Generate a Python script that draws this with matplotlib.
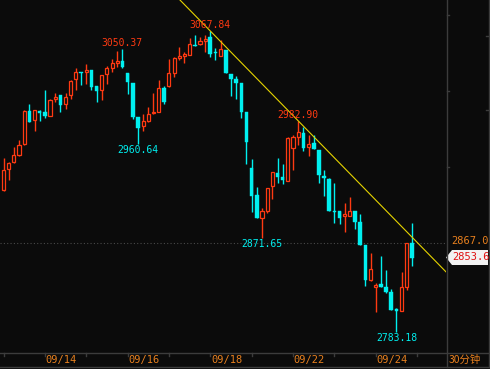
import numpy as np
import matplotlib
matplotlib.use('Agg')
import matplotlib.pyplot as plt
from matplotlib.lines import Line2D
from matplotlib.patches import Polygon

# 30-minute bars, 8 per trading day
opens = [2917.48, 2937.34, 2944.24, 2950.58, 2960.69, 2992.19, 2983.39, 2992.19, 2990.96, 2987.74,
         3003.54, 3007.32, 2998.81, 3007.32, 3022.17, 3028.79, 3029.07, 3030.96, 3015.83, 3011.76,
         3026.90, 3032.57, 3037.86, 3039.47, 3027.84, 3018.38, 2986.80, 2978.00, 2982.73, 2990.01,
         2991.53, 3013.65, 3016.11, 3028.41, 3042.03, 3044.49, 3045.15, 3054.89, 3055.26, 3058.38,
         3062.45, 3047.70, 3044.49, 3049.88, 3027.18, 3022.17, 3018.95, 2991.53, 2938.00, 2912.75,
         2890.71, 2897.62, 2921.26, 2933.27, 2929.49, 2926.27, 2956.91, 2967.88, 2971.10, 2957.86,
         2961.64, 2955.30, 2930.71, 2927.60, 2897.90, 2897.62, 2892.89, 2893.17, 2897.62, 2886.93,
         2865.46, 2832.36, 2825.46, 2828.30, 2825.46, 2820.73, 2804.65, 2803.33, 2825.46, 2867.07]
closes = [2936.39, 2943.01, 2950.58, 2960.03, 2992.47, 2982.07, 2992.85, 2990.58, 2987.74, 3002.59,
          3005.43, 2997.86, 3005.71, 3020.56, 3028.79, 3027.84, 3030.96, 3015.17, 3011.39, 3025.95,
          3033.14, 3037.86, 3039.76, 3034.08, 3019.33, 2986.80, 2976.40, 2982.73, 2989.07, 2991.53,
          3013.65, 3000.41, 3027.84, 3042.03, 3044.20, 3046.09, 3055.26, 3053.94, 3058.38, 3060.28,
          3045.81, 3046.75, 3050.54, 3027.84, 3022.45, 3018.95, 2991.53, 2963.16, 2912.09, 2891.28,
          2897.62, 2919.09, 2934.20, 2930.05, 2926.93, 2966.37, 2967.32, 2972.04, 2956.91, 2960.69,
          2955.97, 2931.66, 2929.11, 2897.90, 2896.96, 2891.28, 2894.50, 2897.62, 2887.50, 2865.46,
          2832.36, 2842.76, 2827.63, 2826.03, 2821.30, 2803.99, 2803.33, 2826.03, 2867.07, 2853.60]
highs = [2947.74, 2943.96, 2958.43, 2964.76, 2993.13, 2998.81, 2992.85, 2993.42, 3012.05, 3003.25,
         3009.49, 3007.32, 3008.93, 3021.50, 3032.57, 3029.35, 3036.64, 3030.96, 3015.83, 3025.95,
         3035.03, 3041.08, 3049.21, 3050.37, 3028.41, 3018.38, 2986.80, 2989.35, 2995.69, 3009.49,
         3021.50, 3015.83, 3041.08, 3043.54, 3052.43, 3048.27, 3060.94, 3064.06, 3062.45, 3064.06,
         3067.84, 3051.48, 3059.33, 3049.88, 3027.18, 3025.29, 3018.95, 2991.53, 2946.51, 2920.60,
         2900.74, 2919.09, 2934.20, 2947.46, 2941.78, 2967.32, 2969.49, 2982.90, 2976.77, 2969.49,
         2969.49, 2955.30, 2936.39, 2928.54, 2924.38, 2897.62, 2904.90, 2911.14, 2897.62, 2894.78,
         2865.46, 2857.61, 2829.24, 2855.06, 2841.82, 2823.57, 2805.60, 2840.21, 2867.07, 2886.55]
lows = [2916.53, 2926.93, 2943.30, 2949.92, 2960.03, 2982.07, 2973.56, 2983.01, 2985.85, 2987.74,
        3000.98, 2991.53, 2994.08, 3003.82, 3012.05, 3016.78, 3018.01, 3012.05, 3000.41, 3002.59,
        3017.72, 3029.35, 3034.08, 3033.14, 3008.27, 2984.91, 2960.64, 2973.56, 2981.50, 2989.07,
        2991.53, 2998.81, 3015.17, 3024.63, 3040.42, 3037.86, 3045.15, 3053.94, 3054.59, 3047.70,
        3043.54, 3040.42, 3044.49, 3027.84, 3006.37, 3003.54, 2985.85, 2942.07, 2896.39, 2891.28,
        2871.65, 2895.44, 2908.68, 2923.82, 2922.87, 2926.27, 2936.39, 2960.03, 2954.64, 2949.63,
        2955.97, 2924.38, 2911.80, 2897.90, 2886.55, 2885.33, 2878.04, 2893.17, 2880.33, 2865.46,
        2826.97, 2831.70, 2802.39, 2826.03, 2820.35, 2803.99, 2783.18, 2803.33, 2822.92, 2845.61]

days = ['09/11', '09/14', '09/15', '09/16', '09/17', '09/18', '09/21', '09/22', '09/23', '09/24']
shown_days = ['09/14', '09/16', '09/18', '09/22', '09/24']
bars_per_day = 8
ref_price = 2867.0
last_price = 2853.6
high_marks = [23, 40, 57]   # labelled peaks
low_marks = [26, 50, 76]    # labelled troughs
trend_pts = [40, 57]        # trend line through these highs

BG = '#0b0b0b'
RED = '#ff3a12'
CYAN = '#00f0f0'
ORANGE = '#e8801e'
GRID = '#3c3c3c'
W, H = 490, 369

def fx(px):
    return px / W

def fy(py):
    return 1 - py / H

fig = plt.figure(figsize=(W / 100, H / 100), dpi=100, facecolor=BG)
ax = fig.add_axes([0, fy(353), fx(446), 353 / H])
ax.set_facecolor(BG)
for s in ax.spines.values():
    s.set_visible(False)
ax.set_xticks([])
ax.set_yticks([])

o = np.array(opens); c = np.array(closes)
hi = np.array(highs); lo = np.array(lows)
x = np.arange(len(o))
up = c >= o
col = np.where(up, RED, CYAN)

ax.vlines(x, lo, hi, colors=col, lw=1, zorder=2)
body_lo = np.minimum(o, c)
body_h = np.maximum(np.abs(c - o), 0.9)
ax.bar(x[up], body_h[up], bottom=body_lo[up], width=0.6,
       facecolor=BG, edgecolor=RED, linewidth=0.9, zorder=3)
ax.bar(x[~up], body_h[~up], bottom=body_lo[~up], width=0.7,
       facecolor=CYAN, edgecolor=CYAN, linewidth=0.3, zorder=3)

# reference price line
ax.axhline(ref_price, color='#4a4a4a', lw=0.8, ls=(0, (1, 2)), zorder=1)

# trend line through two peaks
i0, i1 = trend_pts
slope = (hi[i1] - hi[i0]) / (i1 - i0)
tx = np.array([20, 90])
ax.plot(tx, hi[i0] + slope * (tx - i0), color='#e6d400', lw=0.8, zorder=4)

ax.set_xlim(-0.677, 85.59)
ax.set_ylim(2763.33, 3097.16)

mono = 'DejaVu Sans Mono'
for i in high_marks:
    ax.annotate(f'{hi[i]:.2f}', (i, hi[i]), xytext=(0, 6), textcoords='offset pixels',
                ha='center', va='center', color=RED, fontsize=7, family=mono, zorder=5)
for i in low_marks:
    ax.annotate(f'{lo[i]:.2f}', (i, lo[i]), xytext=(0, -6), textcoords='offset pixels',
                ha='center', va='center', color=CYAN, fontsize=7, family=mono, zorder=5)

# day ticks and date labels
xt = ax.get_xaxis_transform()
for d in range(len(days) + 1):
    ax.plot([d * bars_per_day] * 2, [0, -3 / 353], transform=xt, color=GRID,
            lw=1, clip_on=False)
for d, name in enumerate(days):
    if name in shown_days:
        ax.text(d * bars_per_day + 0.15, -7.5 / 353, name, transform=xt, ha='left',
                va='center', color=ORANGE, fontsize=7.5, family=mono)

# frame lines
for y in (353, 367):
    fig.add_artist(Line2D([0, 1], [fy(y), fy(y)], color=GRID, lw=1))
fig.add_artist(Line2D([fx(446.5), fx(446.5)], [fy(0), fy(367)], color=GRID, lw=1))
fig.add_artist(Line2D([fx(488.5), fx(488.5)], [fy(0), fy(367)], color=GRID, lw=1))
for y in (15, 91, 167):
    fig.add_artist(Line2D([fx(447), fx(449)], [fy(y), fy(y)], color=GRID, lw=1))
for y in (36, 110):
    fig.add_artist(Line2D([fx(486), fx(488)], [fy(y), fy(y)], color=GRID, lw=1))

# right price labels
fig.text(fx(451), fy(241.5), f'{ref_price:.1f}', color=ORANGE, fontsize=7.5,
         family=mono, ha='left', va='center')
fig.add_artist(Polygon([(fx(446), fy(257.5)), (fx(452), fy(250)), (fx(488), fy(250)),
                        (fx(488), fy(265)), (fx(452), fy(265))],
                       closed=True, facecolor='#f2f2f2', edgecolor='none'))
fig.text(fx(452), fy(257.5), f'{last_price:.1f}', color='#e01010', fontsize=7.5,
         family=mono, ha='left', va='center')
fig.text(fx(449), fy(360), '30分钟', color=ORANGE, fontsize=7.5,
         family=['Noto Sans CJK SC', 'DejaVu Sans'], ha='left', va='center')

fig.savefig('out.png', dpi=100, facecolor=BG)
